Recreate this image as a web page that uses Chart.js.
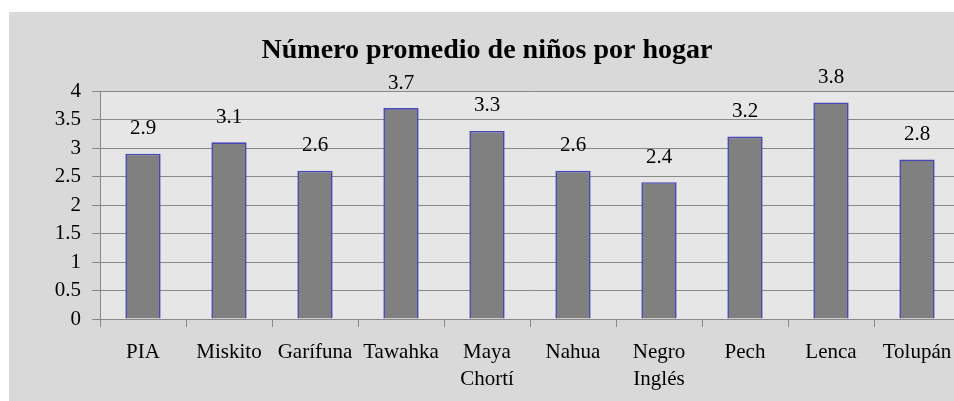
<!DOCTYPE html>
<html>
<head>
<meta charset="utf-8">
<script src="https://cdn.jsdelivr.net/npm/chart.js@4"></script>
<style>
  html, body { margin: 0; padding: 0; background: #fff; overflow: hidden; }
  #wrap { position: absolute; left: 0; top: 0; width: 970px; height: 401px; }
</style>
</head>
<body>
<div id="wrap"><canvas id="chartBar" width="970" height="401"></canvas></div>
<script>
// Datos del grafico
const titulo = "Número promedio de niños por hogar";
const grupos = ["PIA", "Miskito", "Garífuna", "Tawahka", ["Maya", "Chortí"], "Nahua", ["Negro", "Inglés"], "Pech", "Lenca", "Tolupán"];
const promedio = [2.9, 3.1, 2.6, 3.7, 3.3, 2.6, 2.4, 3.2, 3.8, 2.8];
const ejeY = { min: 0, max: 4, paso: 0.5 };

const fuente = '"Liberation Serif", "Times New Roman", Times, serif';
const gris = "#888888";

// Fondo gris exterior y fondo del area de trazado
const fondo = {
  id: "fondo",
  beforeDraw: (chart) => {
    const ctx = chart.ctx;
    const a = chart.chartArea;
    ctx.save();
    ctx.fillStyle = "#ffffff";
    ctx.fillRect(0, 0, chart.width, chart.height);
    ctx.fillStyle = "#d9d9d9";
    ctx.fillRect(9, 12, chart.width - 9, chart.height - 12);
    ctx.fillStyle = "#e6e6e6";
    ctx.fillRect(a.left, a.top, a.right - a.left, a.bottom - a.top);
    ctx.restore();
  },
};

// Etiquetas de valor encima de cada barra
const etiquetas = {
  id: "etiquetas",
  afterDatasetsDraw: (chart) => {
    const ctx = chart.ctx;
    const meta = chart.getDatasetMeta(0);
    ctx.save();
    ctx.font = "21px " + fuente;
    ctx.fillStyle = "#000";
    ctx.textAlign = "center";
    ctx.textBaseline = "middle";
    meta.data.forEach((bar, i) => {
      ctx.fillText(promedio[i].toFixed(1), bar.x, bar.y - 25);
    });
    ctx.restore();
  },
};

const dibujar = () => {
  new Chart(document.getElementById("chartBar"), {
    type: "bar",
    data: {
      labels: grupos,
      datasets: [
        {
          label: titulo,
          data: promedio,
          backgroundColor: "#808080",
          borderColor: "#4646b8",
          borderWidth: 1.6,
          categoryPercentage: 1,
          barPercentage: 0.41,
        },
      ],
    },
    options: {
      responsive: false,
      animation: false,
      devicePixelRatio: 1,
      layout: { padding: { left: 14, right: 10, top: 0, bottom: 0 } },
      plugins: {
        legend: { display: false },
        tooltip: { enabled: false },
        title: {
          display: true,
          text: titulo,
          color: "#000",
          font: { family: fuente, size: 28, weight: "bold", lineHeight: 1.2 },
          padding: { top: 33.7, bottom: 23.7 },
        },
      },
      scales: {
        x: {
          offset: true,
          grid: { offset: true, drawOnChartArea: false, drawTicks: true, tickLength: 8, color: gris },
          border: { display: true, color: gris },
          ticks: {
            color: "#000",
            padding: 11.5,
            maxRotation: 0,
            autoSkip: false,
            font: { family: fuente, size: 21, lineHeight: 1.29 },
          },
          afterFit: (scale) => {
            scale.height = 82;
          },
        },
        y: {
          min: ejeY.min,
          max: ejeY.max,
          grid: { color: gris, tickLength: 8 },
          border: { display: true, color: gris },
          ticks: {
            stepSize: ejeY.paso,
            color: "#000",
            padding: 11,
            font: { family: fuente, size: 21 },
            callback: (v) => String(v),
          },
          afterFit: (scale) => {
            scale.width = 86;
          },
        },
      },
    },
    plugins: [fondo, etiquetas],
  });
};

// Esperar a la fuente serif antes de dibujar
Promise.all([
  document.fonts.load('21px "Liberation Serif"'),
  document.fonts.load('bold 28px "Liberation Serif"'),
]).then(dibujar, dibujar);
</script>
</body>
</html>
